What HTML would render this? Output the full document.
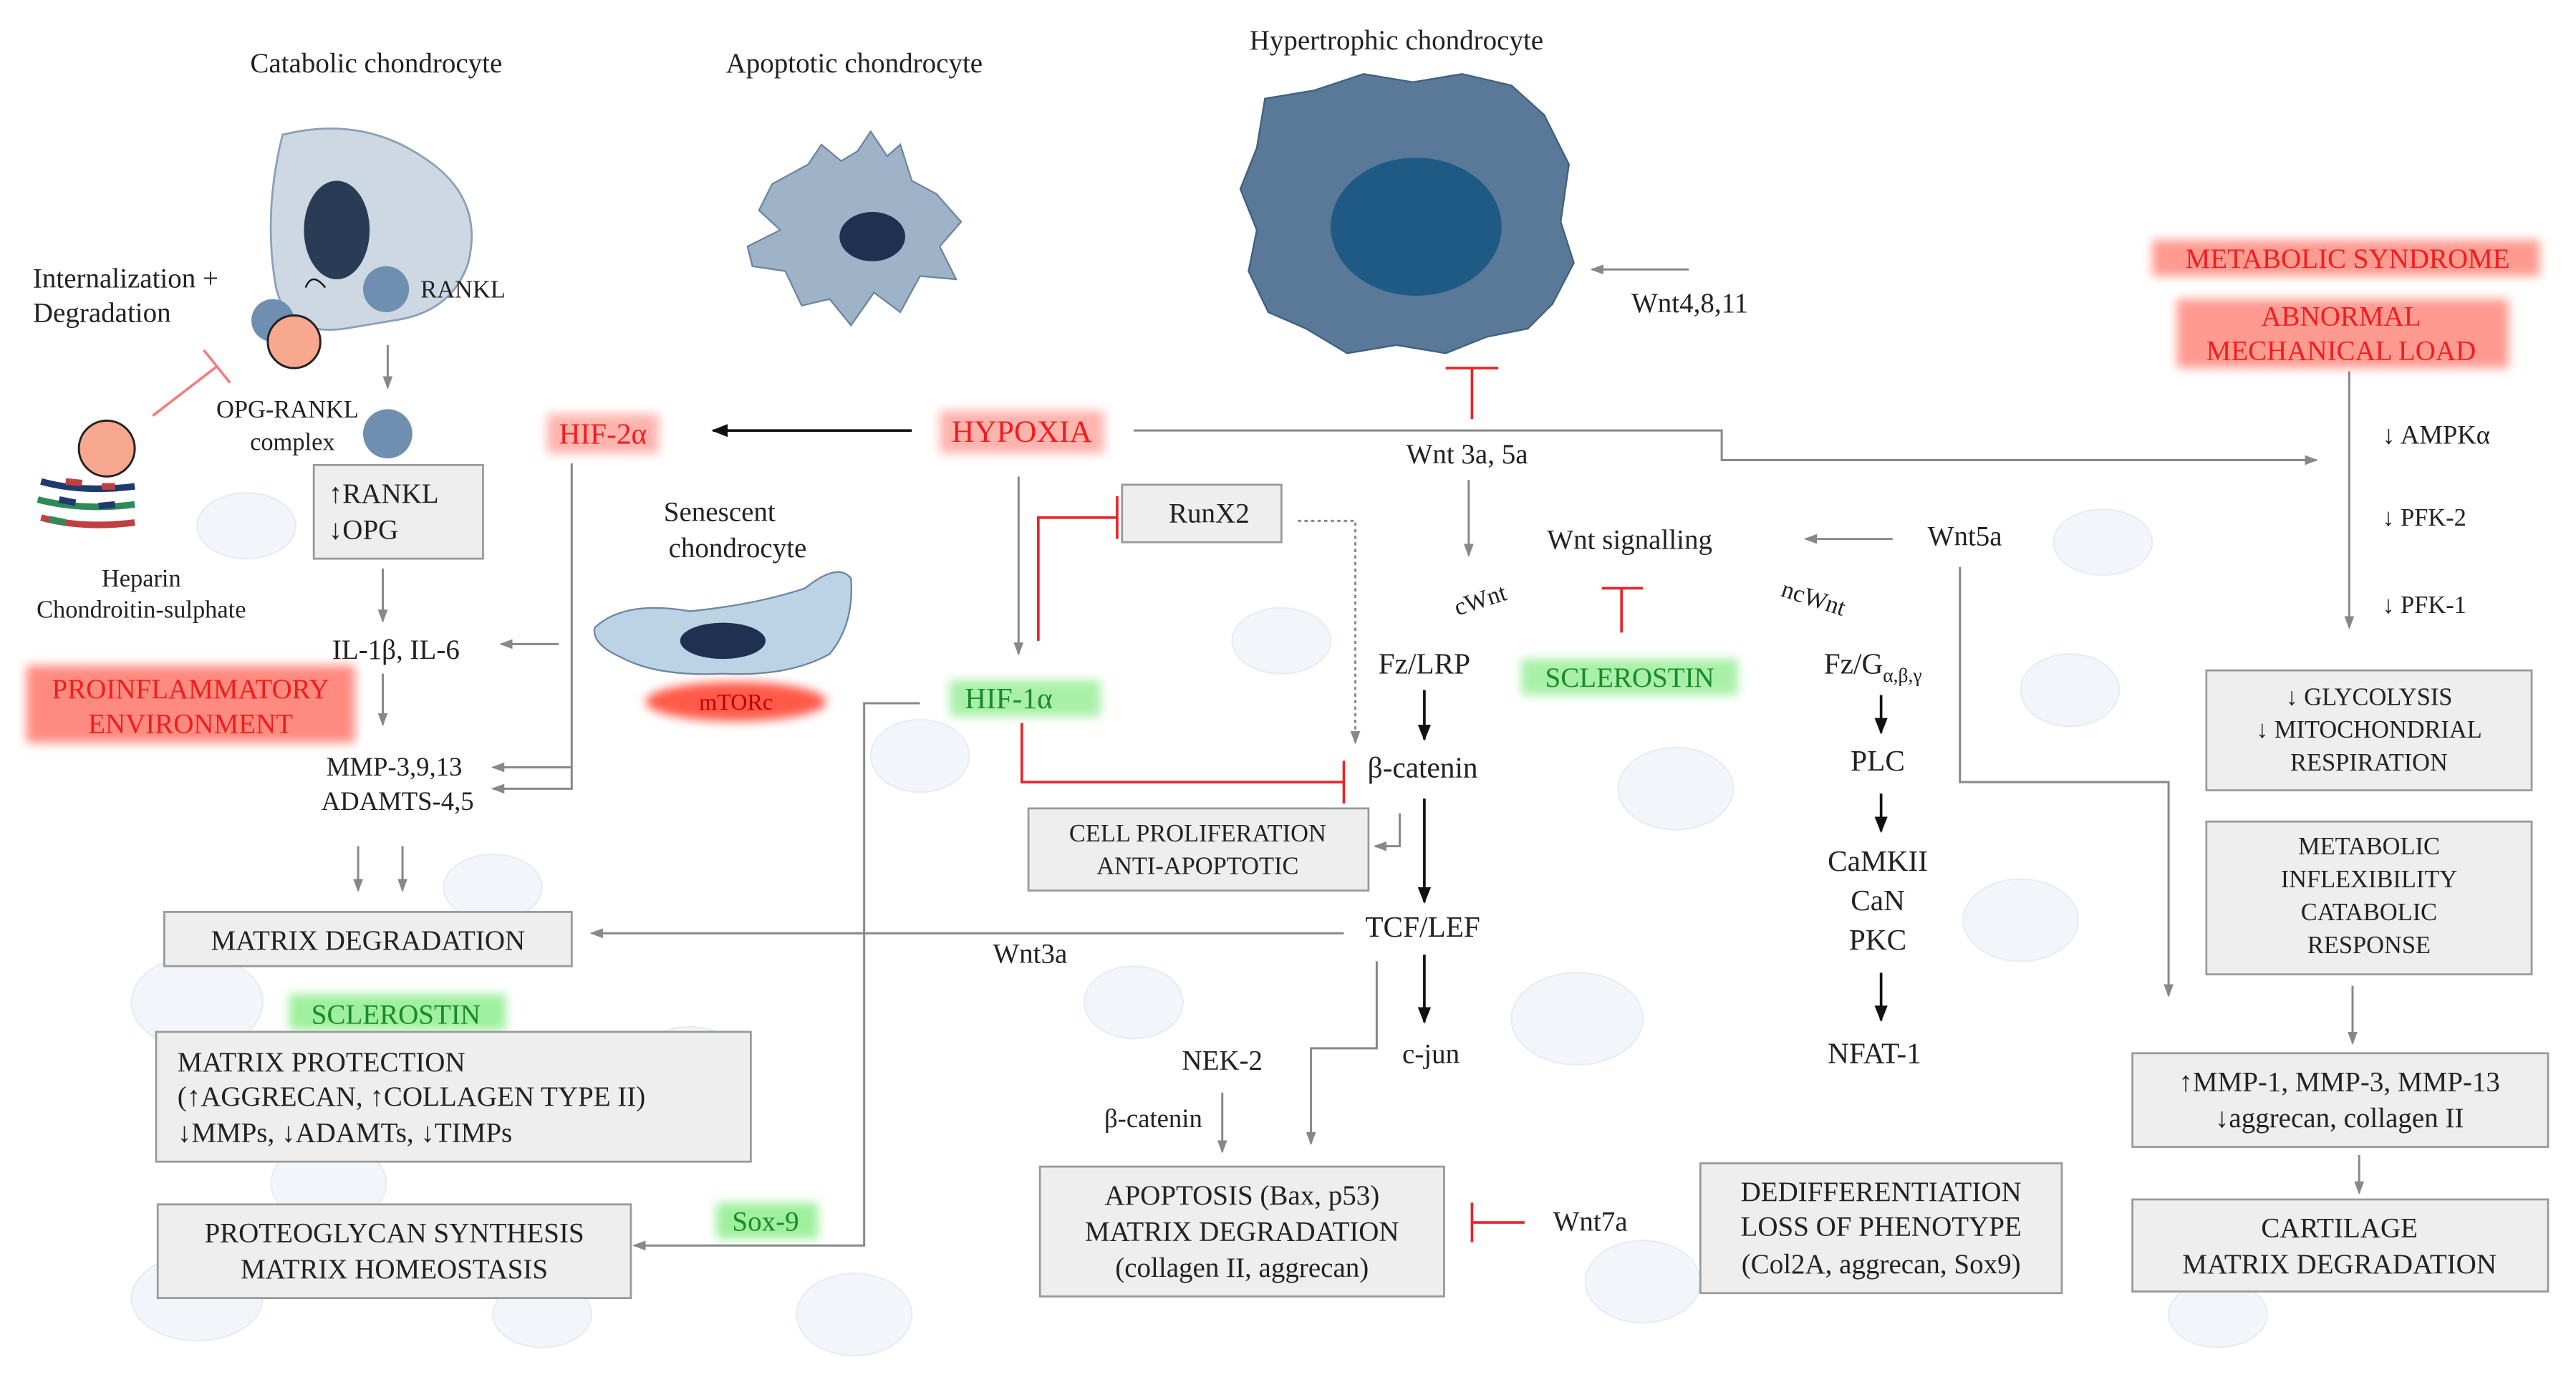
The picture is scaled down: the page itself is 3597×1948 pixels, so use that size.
<!DOCTYPE html>
<html><head><meta charset="utf-8"><style>
html,body{margin:0;padding:0;background:#fff;}
svg{display:block;}
svg text{font-family:"Liberation Serif","DejaVu Serif",serif !important;fill:#222;}
.r{fill:#f01e1e !important;}
.g{fill:#1a8a2a !important;}
.box{fill:#eeeeee;stroke:#999;stroke-width:1.2;}
.ln{stroke:#888;stroke-width:1.3;fill:none;}
.bl{stroke:#111;stroke-width:1.6;fill:none;}
.rd{stroke:#e8242a;stroke-width:1.6;fill:none;}
</style></head><body>
<svg width="3597" height="1948" viewBox="0 0 1568 849" preserveAspectRatio="none" xmlns="http://www.w3.org/2000/svg" font-family="Liberation Serif, serif">
<defs>
<marker id="ag" markerWidth="8" markerHeight="8" refX="7" refY="4" orient="auto" markerUnits="userSpaceOnUse"><path d="M0,1 L8,4 L0,7 z" fill="#888"/></marker>
<marker id="ab" markerWidth="10" markerHeight="10" refX="9" refY="5" orient="auto" markerUnits="userSpaceOnUse"><path d="M0,1 L10,5 L0,9 z" fill="#111"/></marker>
<filter id="blur" x="-20%" y="-50%" width="140%" height="200%"><feGaussianBlur stdDeviation="3"/></filter>
</defs>
<!-- faint background cells -->
<g fill="#f2f6fa" stroke="#e6edf4" stroke-width="1">
<ellipse cx="120" cy="610" rx="40" ry="28"/><ellipse cx="200" cy="720" rx="35" ry="25"/><ellipse cx="120" cy="790" rx="40" ry="26"/>
<ellipse cx="420" cy="650" rx="35" ry="25"/><ellipse cx="520" cy="800" rx="35" ry="25"/><ellipse cx="690" cy="610" rx="30" ry="22"/>
<ellipse cx="960" cy="620" rx="40" ry="28"/><ellipse cx="1000" cy="780" rx="35" ry="25"/><ellipse cx="1230" cy="560" rx="35" ry="25"/>
<ellipse cx="1260" cy="420" rx="30" ry="22"/><ellipse cx="1020" cy="480" rx="35" ry="25"/><ellipse cx="560" cy="460" rx="30" ry="22"/>
<ellipse cx="150" cy="320" rx="30" ry="20"/><ellipse cx="300" cy="540" rx="30" ry="20"/><ellipse cx="1280" cy="330" rx="30" ry="20"/>
<ellipse cx="780" cy="390" rx="30" ry="20"/><ellipse cx="1350" cy="800" rx="30" ry="20"/><ellipse cx="330" cy="800" rx="30" ry="20"/>
</g>

<!-- titles -->
<text x="229" y="44" font-size="17" text-anchor="middle">Catabolic chondrocyte</text>
<text x="520" y="44" font-size="17" text-anchor="middle">Apoptotic chondrocyte</text>
<text x="850" y="30" font-size="17" text-anchor="middle">Hypertrophic chondrocyte</text>

<!-- catabolic cell -->
<path d="M172,82 Q220,70 258,96 Q295,120 285,160 Q275,190 240,195 L210,200 Q175,205 168,175 Q160,130 172,82 z" fill="#cdd8e3" stroke="#8aa0b5" stroke-width="1.2"/>
<ellipse cx="205" cy="140" rx="20" ry="30" fill="#2a3b55"/>
<path d="M186,175 Q190,165 198,175" stroke="#111" fill="none"/>
<circle cx="235" cy="176" r="14" fill="#6f8fb0"/>
<text x="256" y="181" font-size="15">RANKL</text>
<circle cx="166" cy="195" r="13" fill="#6f8fb0"/>
<circle cx="179" cy="208" r="16" fill="#f7a88e" stroke="#222" stroke-width="1.3"/>
<text x="20" y="175" font-size="17">Internalization +</text>
<text x="20" y="196" font-size="17">Degradation</text>
<path d="M93,253 L132,223 M124,213 L140,233" stroke="#f08080" stroke-width="1.6" fill="none"/>
<circle cx="65" cy="273" r="17" fill="#f7a88e" stroke="#222" stroke-width="1.3"/>
<g stroke-width="4" fill="none">
<path d="M25,293 Q50,300 82,296" stroke="#1f3b6e"/>
<path d="M23,304 Q50,311 82,307" stroke="#2f8a5a"/>
<path d="M25,315 Q50,322 82,318" stroke="#c04040"/>
<path d="M40,293 L50,294 M62,296 L70,296" stroke="#c04040"/>
<path d="M36,304 L46,306 M60,308 L70,307" stroke="#1f3b6e"/>
<path d="M30,316 L40,318" stroke="#2f8a5a"/>
</g>
<text x="86" y="357" font-size="15" text-anchor="middle">Heparin</text>
<text x="86" y="376" font-size="15" text-anchor="middle">Chondroitin-sulphate</text>
<text x="175" y="254" font-size="15" text-anchor="middle">OPG-RANKL</text>
<text x="178" y="274" font-size="15" text-anchor="middle">complex</text>
<circle cx="236" cy="264" r="15" fill="#6f8fb0"/>
<line x1="236" y1="210" x2="236" y2="236" class="ln" marker-end="url(#ag)"/>
<rect x="191" y="283" width="103" height="57" class="box"/>
<text x="200" y="306" font-size="17">↑RANKL</text>
<text x="200" y="328" font-size="17">↓OPG</text>
<line x1="233" y1="346" x2="233" y2="378" class="ln" marker-end="url(#ag)"/>
<text x="241" y="401" font-size="17" text-anchor="middle">IL-1β, IL-6</text>
<line x1="340" y1="392" x2="305" y2="392" class="ln" marker-end="url(#ag)"/>
<rect x="16" y="405" width="200" height="47" fill="#ff8a80" filter="url(#blur)"/>
<text x="116" y="425" font-size="17" class="r" text-anchor="middle">PROINFLAMMATORY</text>
<text x="116" y="446" font-size="17" class="r" text-anchor="middle">ENVIRONMENT</text>
<line x1="233" y1="410" x2="233" y2="441" class="ln" marker-end="url(#ag)"/>
<text x="240" y="472" font-size="16" text-anchor="middle">MMP-3,9,13</text>
<text x="242" y="493" font-size="16" text-anchor="middle">ADAMTS-4,5</text>
<rect x="333" y="252" width="68" height="24" fill="#ffb3ad" filter="url(#blur)"/>
<text x="367" y="270" font-size="18" class="r" text-anchor="middle">HIF-2α</text>
<path d="M348,282 L348,480 L300,480" class="ln" marker-end="url(#ag)"/>
<path d="M348,467 L300,467" class="ln" marker-end="url(#ag)"/>
<line x1="218" y1="515" x2="218" y2="542" class="ln" marker-end="url(#ag)"/>
<line x1="245" y1="515" x2="245" y2="542" class="ln" marker-end="url(#ag)"/>
<rect x="100" y="555" width="248" height="33" class="box"/>
<text x="224" y="578" font-size="17" text-anchor="middle">MATRIX DEGRADATION</text>
<rect x="176" y="605" width="132" height="22" fill="#9ef09e" filter="url(#blur)"/>
<text x="241" y="623" font-size="17" class="g" text-anchor="middle">SCLEROSTIN</text>
<rect x="95" y="628" width="362" height="79" class="box"/>
<text x="108" y="652" font-size="17">MATRIX PROTECTION</text>
<text x="108" y="673" font-size="17">(↑AGGRECAN, ↑COLLAGEN TYPE II)</text>
<text x="108" y="695" font-size="17">↓MMPs, ↓ADAMTs, ↓TIMPs</text>
<rect x="96" y="733" width="288" height="57" class="box"/>
<text x="240" y="756" font-size="17" text-anchor="middle">PROTEOGLYCAN SYNTHESIS</text>
<text x="240" y="778" font-size="17" text-anchor="middle">MATRIX HOMEOSTASIS</text>
<rect x="436" y="732" width="62" height="22" fill="#9ef09e" filter="url(#blur)"/>
<text x="466" y="749" font-size="17" class="g" text-anchor="middle">Sox-9</text>
<path d="M560,428 L526,428 L526,758 L386,758" class="ln" marker-end="url(#ag)"/>

<!-- apoptotic -->
<path d="M470,112 L492,100 L500,88 L512,98 L522,92 L530,80 L540,95 L548,88 L555,110 L570,118 L585,135 L572,150 L582,170 L560,168 L548,190 L532,178 L518,198 L505,182 L488,186 L478,165 L458,162 L455,150 L475,140 L462,128 z" fill="#9fb3c8" stroke="#6c86a0" stroke-width="1"/>
<ellipse cx="531" cy="144" rx="20" ry="15" fill="#1f3150"/>

<!-- senescent -->
<text x="438" y="317" font-size="17" text-anchor="middle">Senescent</text>
<text x="449" y="339" font-size="17" text-anchor="middle">chondrocyte</text>
<path d="M362,382 Q380,365 420,372 Q460,368 490,358 Q510,342 518,352 Q520,380 505,398 Q480,412 440,410 Q400,412 378,400 Q360,392 362,382 z" fill="#bcd3e6" stroke="#6c86a0"/>
<ellipse cx="440" cy="390" rx="26" ry="11" fill="#1f3150"/>
<ellipse cx="448" cy="427" rx="55" ry="12" fill="#ff5a4a" filter="url(#blur)"/>
<text x="448" y="432" font-size="14" text-anchor="middle" style="fill:#b00">mTORc</text>

<!-- hypoxia -->
<rect x="572" y="250" width="100" height="26" fill="#ffb3ad" filter="url(#blur)"/>
<text x="622" y="269" font-size="19" class="r" text-anchor="middle">HYPOXIA</text>
<line x1="555" y1="262" x2="434" y2="262" class="bl" marker-end="url(#ab)"/>
<path d="M690,262 L1048,262 L1048,280 L1410,280" class="ln" marker-end="url(#ag)"/>
<line x1="620" y1="290" x2="620" y2="398" class="ln" marker-end="url(#ag)"/>
<path d="M632,390 L632,315 L680,315 M680,302 L680,328" class="rd"/>
<rect x="683" y="295" width="97" height="35" class="box"/>
<text x="736" y="318" font-size="17" text-anchor="middle">RunX2</text>
<path d="M790,317 L825,317 L825,452" class="ln" stroke-dasharray="2,2" marker-end="url(#ag)"/>
<rect x="578" y="414" width="92" height="22" fill="#a8f0a8" filter="url(#blur)"/>
<text x="614" y="431" font-size="18" class="g" text-anchor="middle">HIF-1α</text>
<path d="M622,440 L622,476 L818,476 M818,463 L818,489" class="rd"/>
<rect x="626" y="492" width="207" height="50" class="box"/>
<text x="729" y="512" font-size="15" text-anchor="middle">CELL PROLIFERATION</text>
<text x="729" y="532" font-size="15" text-anchor="middle">ANTI-APOPTOTIC</text>
<path d="M852,495 L852,515 L837,515" class="ln" marker-end="url(#ag)"/>

<!-- hypertrophic -->
<path d="M770,60 L800,55 L830,45 L860,50 L890,45 L920,52 L940,70 L955,100 L950,135 L958,160 L945,185 L930,200 L905,205 L880,215 L850,210 L820,215 L795,200 L772,190 L760,165 L765,140 L755,115 L765,90 z" fill="#5a7897" stroke="#40607f"/>
<ellipse cx="862" cy="138" rx="52" ry="42" fill="#1f5a85"/>
<line x1="1028" y1="164" x2="969" y2="164" class="ln" marker-end="url(#ag)"/>
<text x="993" y="190" font-size="17">Wnt4,8,11</text>
<path d="M896,255 L896,224 M880,224 L912,224" class="rd"/>
<text x="893" y="282" font-size="17" text-anchor="middle">Wnt 3a, 5a</text>
<line x1="894" y1="292" x2="894" y2="338" class="ln" marker-end="url(#ag)"/>
<text x="992" y="334" font-size="17" text-anchor="middle">Wnt signalling</text>
<line x1="1152" y1="328" x2="1099" y2="328" class="ln" marker-end="url(#ag)"/>
<text x="1196" y="332" font-size="17" text-anchor="middle">Wnt5a</text>
<text x="901" y="370" font-size="15" text-anchor="middle" transform="rotate(-18 901 365)">cWnt</text>
<text x="1104" y="369" font-size="15" text-anchor="middle" transform="rotate(18 1104 364)">ncWnt</text>
<path d="M987,385 L987,358 M975,358 L1000,358" class="rd"/>
<rect x="926" y="401" width="132" height="22" fill="#a8f0a8" filter="url(#blur)"/>
<text x="992" y="418" font-size="17" class="g" text-anchor="middle">SCLEROSTIN</text>
<text x="867" y="410" font-size="18" text-anchor="middle">Fz/LRP</text>
<line x1="867" y1="420" x2="867" y2="450" class="bl" marker-end="url(#ab)"/>
<text x="866" y="473" font-size="18" text-anchor="middle">β-catenin</text>
<line x1="867" y1="486" x2="867" y2="549" class="bl" marker-end="url(#ab)"/>
<text x="866" y="570" font-size="18" text-anchor="middle">TCF/LEF</text>
<line x1="867" y1="581" x2="867" y2="622" class="bl" marker-end="url(#ab)"/>
<text x="871" y="647" font-size="17" text-anchor="middle">c-jun</text>
<line x1="818" y1="568" x2="360" y2="568" class="ln" marker-end="url(#ag)"/>
<text x="627" y="586" font-size="17" text-anchor="middle">Wnt3a</text>
<path d="M838,585 L838,638 L798,638 L798,696" class="ln" marker-end="url(#ag)"/>
<text x="744" y="651" font-size="17" text-anchor="middle">NEK-2</text>
<text x="702" y="686" font-size="16" text-anchor="middle">β-catenin</text>
<line x1="744" y1="665" x2="744" y2="701" class="ln" marker-end="url(#ag)"/>
<rect x="633" y="710" width="246" height="79" class="box"/>
<text x="756" y="733" font-size="17" text-anchor="middle">APOPTOSIS (Bax, p53)</text>
<text x="756" y="755" font-size="17" text-anchor="middle">MATRIX DEGRADATION</text>
<text x="756" y="777" font-size="17" text-anchor="middle">(collagen II, aggrecan)</text>
<path d="M928,744 L896,744 M896,732 L896,756" class="rd"/>
<text x="968" y="749" font-size="17" text-anchor="middle">Wnt7a</text>

<!-- noncanonical -->
<text x="1140" y="410" font-size="18" text-anchor="middle">Fz/G<tspan font-size="12" dy="5">α,β,γ</tspan></text>
<line x1="1145" y1="423" x2="1145" y2="446" class="bl" marker-end="url(#ab)"/>
<text x="1143" y="469" font-size="18" text-anchor="middle">PLC</text>
<line x1="1145" y1="483" x2="1145" y2="506" class="bl" marker-end="url(#ab)"/>
<text x="1143" y="530" font-size="18" text-anchor="middle">CaMKII</text>
<text x="1143" y="554" font-size="18" text-anchor="middle">CaN</text>
<text x="1143" y="578" font-size="18" text-anchor="middle">PKC</text>
<line x1="1145" y1="592" x2="1145" y2="621" class="bl" marker-end="url(#ab)"/>
<text x="1141" y="647" font-size="18" text-anchor="middle">NFAT-1</text>
<path d="M1193,345 L1193,476 L1320,476 L1320,606" class="ln" marker-end="url(#ag)"/>
<rect x="1035" y="708" width="220" height="79" class="box"/>
<text x="1145" y="731" font-size="17" text-anchor="middle">DEDIFFERENTIATION</text>
<text x="1145" y="752" font-size="17" text-anchor="middle">LOSS OF PHENOTYPE</text>
<text x="1145" y="775" font-size="17" text-anchor="middle">(Col2A, aggrecan, Sox9)</text>

<!-- metabolic -->
<rect x="1310" y="146" width="236" height="22" fill="#ff9a90" filter="url(#blur)"/>
<text x="1429" y="163" font-size="17" class="r" text-anchor="middle">METABOLIC SYNDROME</text>
<rect x="1325" y="182" width="202" height="42" fill="#ff9a90" filter="url(#blur)"/>
<text x="1425" y="198" font-size="17" class="r" text-anchor="middle">ABNORMAL</text>
<text x="1425" y="219" font-size="17" class="r" text-anchor="middle">MECHANICAL LOAD</text>
<line x1="1430" y1="226" x2="1430" y2="382" class="ln" marker-end="url(#ag)"/>
<text x="1450" y="270" font-size="16">↓ AMPKα</text>
<text x="1450" y="320" font-size="15">↓ PFK-2</text>
<text x="1450" y="373" font-size="15">↓ PFK-1</text>
<rect x="1343" y="408" width="198" height="73" class="box"/>
<text x="1442" y="429" font-size="15" text-anchor="middle">↓ GLYCOLYSIS</text>
<text x="1442" y="449" font-size="15" text-anchor="middle">↓ MITOCHONDRIAL</text>
<text x="1442" y="469" font-size="15" text-anchor="middle">RESPIRATION</text>
<rect x="1343" y="500" width="198" height="93" class="box"/>
<text x="1442" y="520" font-size="15" text-anchor="middle">METABOLIC</text>
<text x="1442" y="540" font-size="15" text-anchor="middle">INFLEXIBILITY</text>
<text x="1442" y="560" font-size="15" text-anchor="middle">CATABOLIC</text>
<text x="1442" y="580" font-size="15" text-anchor="middle">RESPONSE</text>
<line x1="1432" y1="600" x2="1432" y2="635" class="ln" marker-end="url(#ag)"/>
<rect x="1298" y="641" width="253" height="57" class="box"/>
<text x="1424" y="664" font-size="17" text-anchor="middle">↑MMP-1, MMP-3, MMP-13</text>
<text x="1424" y="686" font-size="17" text-anchor="middle">↓aggrecan, collagen II</text>
<line x1="1436" y1="703" x2="1436" y2="726" class="ln" marker-end="url(#ag)"/>
<rect x="1298" y="730" width="253" height="56" class="box"/>
<text x="1424" y="753" font-size="17" text-anchor="middle">CARTILAGE</text>
<text x="1424" y="775" font-size="17" text-anchor="middle">MATRIX DEGRADATION</text>
</svg>
</body></html>
